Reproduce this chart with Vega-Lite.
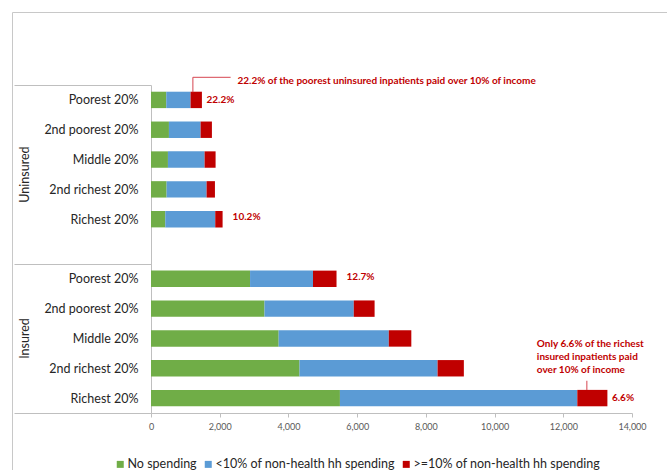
{
  "$schema": "https://vega.github.io/schema/vega-lite/v6.json",
  "width": 481,
  "height": 328,
  "autosize": {"type": "none"},
  "padding": {"left": 151, "top": 85, "right": 35, "bottom": 57},
  "background": "white",
  "config": {"font": "Lato", "view": {"stroke": null}, "axis": {"grid": false}},
  "datasets": {
    "bars": [
      {"key": "Uninsured|Poorest 20%", "type": "No spending", "ord": 1, "value": 444},
      {"key": "Uninsured|Poorest 20%", "type": "<10% of non-health hh spending", "ord": 2, "value": 708},
      {"key": "Uninsured|Poorest 20%", "type": ">=10% of non-health hh spending", "ord": 3, "value": 330},
      {"key": "Uninsured|2nd poorest 20%", "type": "No spending", "ord": 1, "value": 522},
      {"key": "Uninsured|2nd poorest 20%", "type": "<10% of non-health hh spending", "ord": 2, "value": 922},
      {"key": "Uninsured|2nd poorest 20%", "type": ">=10% of non-health hh spending", "ord": 3, "value": 329},
      {"key": "Uninsured|Middle 20%", "type": "No spending", "ord": 1, "value": 493},
      {"key": "Uninsured|Middle 20%", "type": "<10% of non-health hh spending", "ord": 2, "value": 1067},
      {"key": "Uninsured|Middle 20%", "type": ">=10% of non-health hh spending", "ord": 3, "value": 320},
      {"key": "Uninsured|2nd richest 20%", "type": "No spending", "ord": 1, "value": 454},
      {"key": "Uninsured|2nd richest 20%", "type": "<10% of non-health hh spending", "ord": 2, "value": 1164},
      {"key": "Uninsured|2nd richest 20%", "type": ">=10% of non-health hh spending", "ord": 3, "value": 243},
      {"key": "Uninsured|Richest 20%", "type": "No spending", "ord": 1, "value": 415},
      {"key": "Uninsured|Richest 20%", "type": "<10% of non-health hh spending", "ord": 2, "value": 1455},
      {"key": "Uninsured|Richest 20%", "type": ">=10% of non-health hh spending", "ord": 3, "value": 214},
      {"key": "Insured|Poorest 20%", "type": "No spending", "ord": 1, "value": 2883},
      {"key": "Insured|Poorest 20%", "type": "<10% of non-health hh spending", "ord": 2, "value": 1832},
      {"key": "Insured|Poorest 20%", "type": ">=10% of non-health hh spending", "ord": 3, "value": 685},
      {"key": "Insured|2nd poorest 20%", "type": "No spending", "ord": 1, "value": 3303},
      {"key": "Insured|2nd poorest 20%", "type": "<10% of non-health hh spending", "ord": 2, "value": 2599},
      {"key": "Insured|2nd poorest 20%", "type": ">=10% of non-health hh spending", "ord": 3, "value": 606},
      {"key": "Insured|Middle 20%", "type": "No spending", "ord": 1, "value": 3716},
      {"key": "Insured|Middle 20%", "type": "<10% of non-health hh spending", "ord": 2, "value": 3205},
      {"key": "Insured|Middle 20%", "type": ">=10% of non-health hh spending", "ord": 3, "value": 656},
      {"key": "Insured|2nd richest 20%", "type": "No spending", "ord": 1, "value": 4323},
      {"key": "Insured|2nd richest 20%", "type": "<10% of non-health hh spending", "ord": 2, "value": 4018},
      {"key": "Insured|2nd richest 20%", "type": ">=10% of non-health hh spending", "ord": 3, "value": 765},
      {"key": "Insured|Richest 20%", "type": "No spending", "ord": 1, "value": 5499},
      {"key": "Insured|Richest 20%", "type": "<10% of non-health hh spending", "ord": 2, "value": 6909},
      {"key": "Insured|Richest 20%", "type": ">=10% of non-health hh spending", "ord": 3, "value": 876}
    ]
  },
  "layer": [
    {
      "data": {"name": "bars"},
      "mark": {"type": "bar", "height": {"band": 0.55}},
      "encoding": {
        "y": {
          "field": "key", "type": "nominal", "sort": null,
          "scale": {"domain": ["Uninsured|Poorest 20%", "Uninsured|2nd poorest 20%", "Uninsured|Middle 20%", "Uninsured|2nd richest 20%", "Uninsured|Richest 20%", "Uninsured|", "Insured|Poorest 20%", "Insured|2nd poorest 20%", "Insured|Middle 20%", "Insured|2nd richest 20%", "Insured|Richest 20%"], "paddingInner": 0, "paddingOuter": 0},
          "axis": {
            "orient": "left", "title": null, "domainColor": "#BFBFBF",
            "tickBand": "extent", "tickSize": 137,
            "tickColor": {"condition": {"test": "datum.extra || datum.value == 'Uninsured|' || datum.value == 'Insured|Richest 20%'", "value": "#BFBFBF"}, "value": "transparent"},
            "labelPadding": -124, "labelExpr": "split(datum.value, '|')[1]",
            "labelFontSize": 12.5, "labelColor": "#262626", "labelLimit": 0
          }
        },
        "x": {
          "field": "value", "type": "quantitative", "stack": "zero", "title": null,
          "scale": {"domain": [0, 14000], "nice": false},
          "axis": {
            "title": null, "values": [0, 2000, 4000, 6000, 8000, 10000, 12000, 14000],
            "labelExpr": "format(datum.value, ',.0f')",
            "labelFontSize": 9, "labelColor": "#595959", "labelFlush": false, "labelPadding": 5,
            "tickSize": 4, "tickColor": "#BFBFBF", "domainColor": "#BFBFBF"
          }
        },
        "color": {
          "field": "type", "type": "nominal",
          "scale": {"domain": ["No spending", "<10% of non-health hh spending", ">=10% of non-health hh spending"], "range": ["#70AD47", "#5B9BD5", "#C00000"]},
          "legend": {
            "orient": "none", "legendX": -37, "legendY": 373, "direction": "horizontal", "title": null,
            "symbolType": "square", "symbolSize": 49, "symbolStrokeWidth": 0,
            "labelFontSize": 12.5, "labelColor": "#262626", "labelOffset": 1, "columnPadding": 5, "padding": 0, "labelLimit": 0
          }
        },
        "order": {"field": "ord"}
      }
    },
    {
      "data": {"values": [
        {"key": "Uninsured|Poorest 20%", "total": 1482, "label": "22.2%"},
        {"key": "Insured|Richest 20%", "total": 13284, "label": "6.6%"}
      ]},
      "mark": {"type": "text", "align": "left", "baseline": "middle", "dx": 4.5, "fontSize": 10, "fontWeight": "bold", "color": "#C00000"},
      "encoding": {
        "y": {"field": "key", "type": "nominal", "sort": null, "scale": {"domain": ["Uninsured|Poorest 20%", "Uninsured|2nd poorest 20%", "Uninsured|Middle 20%", "Uninsured|2nd richest 20%", "Uninsured|Richest 20%", "Uninsured|", "Insured|Poorest 20%", "Insured|2nd poorest 20%", "Insured|Middle 20%", "Insured|2nd richest 20%", "Insured|Richest 20%"], "paddingInner": 0, "paddingOuter": 0}, "axis": null},
        "x": {"field": "total", "type": "quantitative", "title": null, "scale": {"domain": [0, 14000], "nice": false}},
        "text": {"field": "label"}
      }
    },
    {
      "data": {"values": [
        {"key": "Uninsured|Richest 20%", "total": 2084, "label": "10.2%"},
        {"key": "Insured|Poorest 20%", "total": 5400, "label": "12.7%"}
      ]},
      "mark": {"type": "text", "align": "left", "baseline": "middle", "dx": 10, "dy": -2, "fontSize": 10, "fontWeight": "bold", "color": "#C00000"},
      "encoding": {
        "y": {"field": "key", "type": "nominal", "sort": null, "scale": {"domain": ["Uninsured|Poorest 20%", "Uninsured|2nd poorest 20%", "Uninsured|Middle 20%", "Uninsured|2nd richest 20%", "Uninsured|Richest 20%", "Uninsured|", "Insured|Poorest 20%", "Insured|2nd poorest 20%", "Insured|Middle 20%", "Insured|2nd richest 20%", "Insured|Richest 20%"], "paddingInner": 0, "paddingOuter": 0}, "axis": null},
        "x": {"field": "total", "type": "quantitative", "title": null, "scale": {"domain": [0, 14000], "nice": false}},
        "text": {"field": "label"}
      }
    },
    {
      "data": {"values": [
        {"key": "Uninsured|Poorest 20%", "x": 2515, "note": "22.2% of the poorest uninsured inpatients paid over 10% of income"}
      ]},
      "mark": {"type": "text", "align": "left", "baseline": "middle", "dy": -19.2, "fontSize": 10, "fontWeight": "bold", "color": "#C00000"},
      "encoding": {
        "y": {"field": "key", "type": "nominal", "sort": null, "scale": {"domain": ["Uninsured|Poorest 20%", "Uninsured|2nd poorest 20%", "Uninsured|Middle 20%", "Uninsured|2nd richest 20%", "Uninsured|Richest 20%", "Uninsured|", "Insured|Poorest 20%", "Insured|2nd poorest 20%", "Insured|Middle 20%", "Insured|2nd richest 20%", "Insured|Richest 20%"], "paddingInner": 0, "paddingOuter": 0}, "axis": null},
        "x": {"field": "x", "type": "quantitative", "title": null, "scale": {"domain": [0, 14000], "nice": false}},
        "text": {"field": "note"}
      }
    },
    {
      "data": {"values": [
        {"key": "Insured|Richest 20%", "x": 11231, "note": "Only 6.6% of the richest\ninsured inpatients paid\nover 10% of income"}
      ]},
      "mark": {"type": "text", "align": "left", "baseline": "middle", "dy": -54.2, "lineBreak": "\n", "lineHeight": 13.3, "fontSize": 10, "fontWeight": "bold", "color": "#C00000"},
      "encoding": {
        "y": {"field": "key", "type": "nominal", "sort": null, "scale": {"domain": ["Uninsured|Poorest 20%", "Uninsured|2nd poorest 20%", "Uninsured|Middle 20%", "Uninsured|2nd richest 20%", "Uninsured|Richest 20%", "Uninsured|", "Insured|Poorest 20%", "Insured|2nd poorest 20%", "Insured|Middle 20%", "Insured|2nd richest 20%", "Insured|Richest 20%"], "paddingInner": 0, "paddingOuter": 0}, "axis": null},
        "x": {"field": "x", "type": "quantitative", "title": null, "scale": {"domain": [0, 14000], "nice": false}},
        "text": {"field": "note"}
      }
    },
    {
      "data": {"values": [{"key": "Uninsured|Poorest 20%", "x": 1219}]},
      "mark": {"type": "tick", "size": 15, "thickness": 1, "yOffset": -15.1, "color": "#D64550", "opacity": 1},
      "encoding": {
        "y": {"field": "key", "type": "nominal", "sort": null, "scale": {"domain": ["Uninsured|Poorest 20%", "Uninsured|2nd poorest 20%", "Uninsured|Middle 20%", "Uninsured|2nd richest 20%", "Uninsured|Richest 20%", "Uninsured|", "Insured|Poorest 20%", "Insured|2nd poorest 20%", "Insured|Middle 20%", "Insured|2nd richest 20%", "Insured|Richest 20%"], "paddingInner": 0, "paddingOuter": 0}, "axis": null},
        "x": {"field": "x", "type": "quantitative", "title": null, "scale": {"domain": [0, 14000], "nice": false}}
      }
    },
    {
      "data": {"values": [{"key": "Insured|Richest 20%", "x": 12686}]},
      "mark": {"type": "tick", "size": 9.3, "thickness": 1, "yOffset": -12.8, "color": "#D64550", "opacity": 1},
      "encoding": {
        "y": {"field": "key", "type": "nominal", "sort": null, "scale": {"domain": ["Uninsured|Poorest 20%", "Uninsured|2nd poorest 20%", "Uninsured|Middle 20%", "Uninsured|2nd richest 20%", "Uninsured|Richest 20%", "Uninsured|", "Insured|Poorest 20%", "Insured|2nd poorest 20%", "Insured|Middle 20%", "Insured|2nd richest 20%", "Insured|Richest 20%"], "paddingInner": 0, "paddingOuter": 0}, "axis": null},
        "x": {"field": "x", "type": "quantitative", "title": null, "scale": {"domain": [0, 14000], "nice": false}}
      }
    },
    {
      "data": {"values": [{"key": "Uninsured|Poorest 20%", "x": 1219, "x2": 2317, "kind": "frame"}]},
      "mark": {"type": "rule", "yOffset": -22.6, "color": "#D64550", "strokeWidth": 1},
      "encoding": {
        "y": {
          "field": "key", "type": "nominal", "sort": null,
          "scale": {"domain": ["Uninsured|Poorest 20%", "Uninsured|2nd poorest 20%", "Uninsured|Middle 20%", "Uninsured|2nd richest 20%", "Uninsured|Richest 20%", "Uninsured|", "Insured|Poorest 20%", "Insured|2nd poorest 20%", "Insured|Middle 20%", "Insured|2nd richest 20%", "Insured|Richest 20%"], "paddingInner": 0, "paddingOuter": 0},
          "axis": {
            "orient": "left", "offset": 139, "title": null, "domain": false, "ticks": false,
            "labelAngle": -90, "labelAlign": "center", "labelBaseline": "alphabetic", "labelPadding": -16.6,
            "labelOffset": {"condition": {"test": "datum.value == 'Uninsured|Middle 20%'", "value": 15}, "value": 0},
            "labelExpr": "datum.value == 'Uninsured|Middle 20%' ? 'Uninsured' : (datum.value == 'Insured|Middle 20%' ? 'Insured' : '')",
            "labelFontSize": 12.5, "labelColor": "#262626", "labelLimit": 0
          }
        },
        "x": {"field": "x", "type": "quantitative", "title": null, "scale": {"domain": [0, 14000], "nice": false}},
        "x2": {"field": "x2"},
        "opacity": {
          "field": "kind", "type": "ordinal", "scale": {"range": [1]},
          "legend": {
            "orient": "none", "legendX": -139, "legendY": -73, "title": null, "padding": 340,
            "strokeColor": "#C8C8C8", "symbolOpacity": 0, "symbolSize": 1, "symbolStrokeWidth": 0,
            "labelExpr": "''", "labelFontSize": 1
          }
        }
      }
    }
  ],
  "resolve": {"axis": {"y": "independent"}}
}
